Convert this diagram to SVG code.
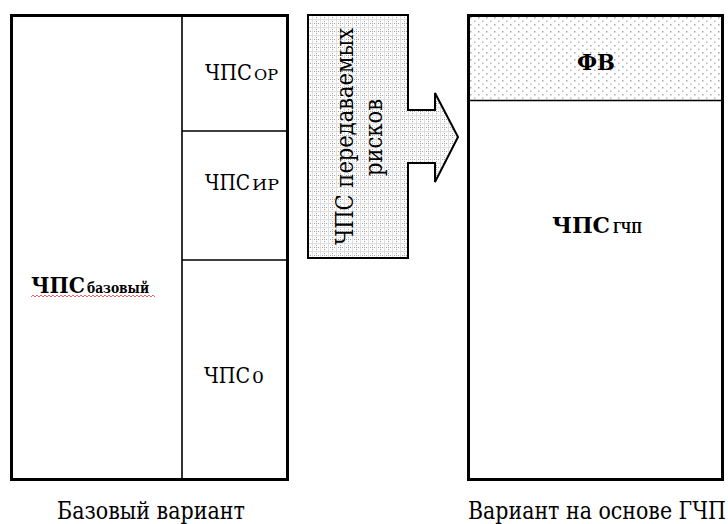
<svg xmlns="http://www.w3.org/2000/svg" width="728" height="524" viewBox="0 0 728 524">
<style>
text{font-family:"DejaVu Serif","Liberation Serif",serif;fill:#000}
.m{font-size:22px}
.s{font-size:15px}
.b{font-weight:bold}
.outer{fill:#fff;stroke:#000;stroke-width:3}
.div{fill:none;stroke:#000;stroke-width:1.6}
</style>
<defs>
<pattern id="grid" width="8" height="8" patternUnits="userSpaceOnUse" x="308" y="15">
<rect width="8" height="8" fill="#fff"/>
<path d="M0,0.5H8M0.5,0V8" stroke="#a0a0a0" stroke-width="1" stroke-dasharray="1,1" fill="none"/>
<path d="M0,4.5H8M4.5,0V8" stroke="#dedede" stroke-width="1" fill="none"/>
</pattern>
<pattern id="dots" width="8" height="7" patternUnits="userSpaceOnUse" x="469" y="16">
<rect width="8" height="7" fill="#fff"/>
<rect x="1" y="1" width="1.5" height="1.5" fill="#a8a8a8"/>
<rect x="5" y="4.5" width="1.5" height="1.5" fill="#bcbcbc"/>
</pattern>
</defs>
<g id="base-variant">
<rect class="outer" x="11.5" y="15.5" width="276" height="464"/>
<path class="div" d="M182,15.5V479.5M182,131H287.5M182,260H287.5"/>
</g>
<g id="node-chps-base">
<text class="b m" x="31" y="293" textLength="54" lengthAdjust="spacingAndGlyphs">ЧПС</text>
<text class="b s" x="87" y="293" textLength="62" lengthAdjust="spacingAndGlyphs">базовый</text>
<path d="M31,297 l2,-2 l2,2 l2,-2 l2,2 l2,-2 l2,2 l2,-2 l2,2 l2,-2 l2,2 l2,-2 l2,2 l2,-2 l2,2 l2,-2 l2,2 l2,-2 l2,2 l2,-2 l2,2 l2,-2 l2,2 l2,-2 l2,2 l2,-2 l2,2 l2,-2 l2,2 l2,-2 l2,2 l2,-2 l2,2 l2,-2 l2,2 l2,-2 l2,2 l2,-2 l2,2 l2,-2 l2,2 l2,-2 l2,2 l2,-2 l2,2 l2,-2 l2,2 l2,-2 l2,2 l2,-2 l2,2 l2,-2 l2,2 l2,-2 l2,2 l2,-2 l2,2 l2,-2 l2,2 l2,-2 l2,2 l2,-2 l2,2" fill="none" stroke="#e04040" stroke-width="0.8"/>
</g>
<g id="node-chps-or">
<text class="m" x="205" y="80" textLength="47" lengthAdjust="spacingAndGlyphs">ЧПС</text>
<text class="s" x="254" y="80" textLength="24" lengthAdjust="spacingAndGlyphs">ОР</text>
</g>
<g id="node-chps-ir">
<text class="m" x="205" y="190" textLength="45" lengthAdjust="spacingAndGlyphs">ЧПС</text>
<text class="s" x="252" y="190" textLength="27" lengthAdjust="spacingAndGlyphs">ИР</text>
</g>
<g id="node-chps-0">
<text class="m" x="204" y="383" textLength="46" lengthAdjust="spacingAndGlyphs">ЧПС</text>
<text x="252" y="383" font-size="17" textLength="12" lengthAdjust="spacingAndGlyphs">0</text>
</g>
<g id="connectors">
<g id="arrow-transfer">
<path d="M308,15H408V110H435V93L458,137L435,182V163H408V258H308Z" fill="url(#grid)" stroke="#000" stroke-width="2"/>
<text font-size="24" x="-108" y="0" textLength="217" lengthAdjust="spacingAndGlyphs" transform="translate(353,137) rotate(-90)">ЧПС передаваемых</text>
<text font-size="24" x="-39" y="0" textLength="77" lengthAdjust="spacingAndGlyphs" transform="translate(382,137) rotate(-90)">рисков</text>
</g>
</g>
<g id="ppp-variant">
<rect class="outer" x="468.5" y="15.5" width="254" height="464"/>
<rect x="470" y="17" width="251" height="83" fill="url(#dots)"/>
<path class="div" d="M468.5,100.5H722.5"/>
</g>
<g id="node-fv">
<text class="b" font-size="23" x="577" y="70" textLength="38" lengthAdjust="spacingAndGlyphs">ФВ</text>
</g>
<g id="node-chps-gchp">
<text class="b" font-size="23" x="552" y="233" textLength="58" lengthAdjust="spacingAndGlyphs">ЧПС</text>
<text class="b s" x="613" y="233" textLength="29" lengthAdjust="spacingAndGlyphs">ГЧП</text>
</g>
<g id="captions">
<text font-size="24" x="57" y="519" textLength="188" lengthAdjust="spacingAndGlyphs">Базовый вариант</text>
<text font-size="24" x="468" y="519" textLength="258" lengthAdjust="spacingAndGlyphs">Вариант на основе ГЧП</text>
</g>
</svg>
